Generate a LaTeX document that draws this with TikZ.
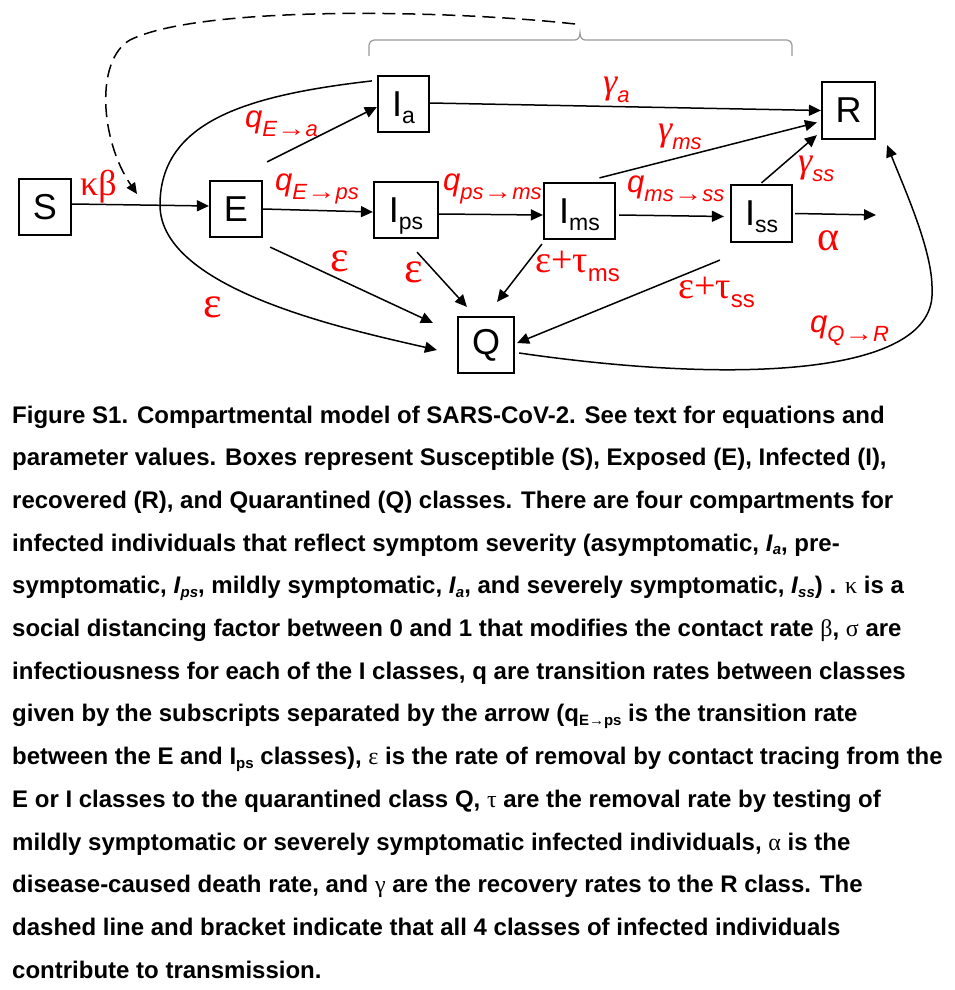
\documentclass[tikz,border=0pt]{standalone}
\usepackage{fontspec}
\setmainfont{Liberation Sans}
\newfontfamily\grk{Liberation Serif}
\usetikzlibrary{arrows.meta}
\newcommand\bsub[1]{\raisebox{-7pt}[0pt][0pt]{\fontsize{23}{25}\selectfont #1}}
\newcommand\qsub[1]{\raisebox{-9pt}[0pt][0pt]{\fontsize{22}{24}\selectfont\itshape #1}}
\newcommand\rsub[1]{\raisebox{-9pt}[0pt][0pt]{\fontsize{24}{26}\selectfont #1}}
\newcommand\csub[1]{\raisebox{-3.5pt}{\fontsize{15}{15}\selectfont #1}}
\newcommand\gk[1]{{\grk\mdseries\upshape #1}}
\newcommand\arr{{\grk\upshape\scalebox{1.3}[1.05]{→}}}
\newcommand\carr{{\grk\upshape →}}
\begin{document}
\begin{tikzpicture}[x=1pt,y=-1pt,
 box/.style={draw, line width=2.2pt, minimum width=52pt, minimum height=56pt, inner sep=0pt, font=\fontsize{36}{40}\selectfont},
 conn/.style={line width=1.5pt, -{Triangle[length=12pt,width=11pt]}},
 lab/.style={text=red, inner sep=0pt, anchor=base west},
 qlab/.style={lab, font=\fontsize{31}{34}\selectfont\itshape},
 glab/.style={lab, font=\fontsize{36}{38}\selectfont},
 elab/.style={lab, font=\fontsize{44}{46}\selectfont},
 tlab/.style={lab, font=\fontsize{38}{40}\selectfont},
 captxt/.style={inner sep=0pt, anchor=base west, font=\fontsize{24}{28}\selectfont\bfseries}]
\useasboundingbox (0,0) rectangle (954,990);

% boxes
\node[box] (S) at (45,207) {S};
\node[box] (E) at (236,209) {E};
\node[box, minimum width=51pt] (Ia) at (403.5,104) {I\bsub{a}};
\node[box, minimum width=64pt] (Ips) at (406,210) {I\bsub{ps}};
\node[box, minimum width=71pt] (Ims) at (579.5,211) {I\bsub{ms}};
\node[box, minimum width=61pt, minimum height=57pt] (Iss) at (761.5,213.5) {I\bsub{ss}};
\node[box, minimum width=53pt, minimum height=57pt] (R) at (848.5,110.5) {R};
\node[box, minimum width=56pt] (Q) at (486,345) {Q};

% bracket
\coordinate (brL) at (369,56);
\coordinate (brR) at (792,56);
\coordinate (brT) at (580,33);
\draw[black!40, line width=1.2pt] (brL) -- (369,45) to[out=90,in=180] (374,40) -- (575,40) to[out=0,in=-90] (brT) to[out=-90,in=180] (585,40) -- (787,40) to[out=0,in=90] (792,45) -- (brR);

% dashed transmission line
\coordinate (dS) at (575,24);
\coordinate (dM) at (130,40);
\coordinate (dE) at (137,194);
\draw[line width=1.5pt, dash pattern=on 13pt off 7pt, -{Triangle[length=11pt,width=10pt]}] (dS) .. controls (450,10) and (200,5) .. (dM) .. controls (95,60) and (100,140) .. (dE);

% connectors
\draw[conn] ([shift={(0,-3)}]S.east) -- ([shift={(0,-3)}]E.west);
\draw[conn] ([shift={(4,-18)}]E.north east) -- ([shift={(0,3)}]Ia.west);
\draw[conn] (E.east) -- ([shift={(0,2)}]Ips.west);
\draw[conn] ([shift={(0,-1)}]Ia.east) -- (R.west);
\draw[conn] ([shift={(0,4)}]Ips.east) -- ([shift={(0,4)}]Ims.west);
\draw[conn] ([shift={(20,-4)}]Ims.north) -- ([shift={(-4,12)}]R.west);
\draw[conn] ([shift={(3,4)}]Ims.east) -- ([shift={(-6,3)}]Iss.west);
\draw[conn] ([shift={(0,-1)}]Iss.north) -- ([shift={(-4,-5)}]R.south west);
\coordinate (aEnd) at (876,215);
\draw[conn] ([shift={(2,0)}]Iss.east) -- (aEnd);
\draw[conn] ([shift={(7,9)}]E.south east) -- ([shift={(-24,7)}]Q.north west);
\draw[conn] ([shift={(11,13)}]Ips.south) -- ([shift={(10,-9)}]Q.north west);
\draw[conn] ([shift={(-1,4)}]Ims.south west) -- ([shift={(-18,-14)}]Q.north east);
\draw[conn] ([shift={(-10,17)}]Iss.south west) -- ([shift={(2,-2)}]Q.east);
\coordinate (bA) at (160,205);
\draw[conn] ([shift={(-5,6)}]Ia.north west) .. controls (250,95) and (160,120) .. (bA) .. controls (160,290) and (350,330) .. ([shift={(-20,5)}]Q.west);
\coordinate (bB) at (932,290);
\draw[conn] ([shift={(4,8)}]Q.east) .. controls (740,385) and (937,375) .. (bB) .. controls (933,252) and (905,190) .. ([shift={(11,5)}]R.south east);

% labels
\node[lab, font=\fontsize{36}{38}\selectfont] (lkb) at (80,195) {\gk{κβ}};
\node[qlab] (lqa) at (245,127) {q\qsub{E\arr a}};
\node[qlab] (lqps) at (275,190) {q\qsub{E\arr ps}};
\node[qlab] (lqms) at (443,190) {q\qsub{ps\arr ms}};
\node[qlab] (lqss) at (627,192) {q\qsub{ms\arr ss}};
\node[qlab] (lqr) at (810,332) {q\qsub{Q\arr R}};
\node[glab] (lga) at (603,93) {{\grk\itshape γ}\qsub{a}};
\node[glab] (lgms) at (658,140) {{\grk\itshape γ}\qsub{ms}};
\node[glab] (lgss) at (798,172) {{\grk\itshape γ}\qsub{ss}};
\node[lab, font=\fontsize{42}{44}\selectfont] (lal) at (817,250) {\gk{α}};
\node[tlab] (ltms) at (535,272) {\gk{ε+τ}\rsub{ms}};
\node[tlab] (ltss) at (678,298) {\gk{ε+τ}\rsub{ss}};
\node[elab] (le1) at (330,271) {\gk{ε}};
\node[elab] (le2) at (404,282) {\gk{ε}};
\node[elab] (le3) at (203,317) {\gk{ε}};

% caption
\node[captxt] (c1) at (12,423) {Figure S1. Compartmental model of SARS-CoV-2. See text for equations and};
\node[captxt] (c2) at (12,465.7) {parameter values. Boxes represent Susceptible (S), Exposed (E), Infected (I),};
\node[captxt] (c3) at (12,508.4) {recovered (R), and Quarantined (Q) classes. There are four compartments for};
\node[captxt] (c4) at (12,551.1) {infected individuals that reflect symptom severity (asymptomatic, \textit{I}\csub{\itshape a}, pre-};
\node[captxt] (c5) at (12,593.8) {symptomatic, \textit{I}\csub{\itshape ps}, mildly symptomatic, \textit{I}\csub{\itshape a}, and severely symptomatic, \textit{I}\csub{\itshape ss}) . \gk{κ} is a};
\node[captxt] (c6) at (12,636.5) {social distancing factor between 0 and 1 that modifies the contact rate \gk{β}, \gk{σ} are};
\node[captxt] (c7) at (12,679.2) {infectiousness for each of the I classes, q are transition rates between classes};
\node[captxt] (c8) at (12,721.9) {given by the subscripts separated by the arrow (q\csub{E\carr ps} is the transition rate};
\node[captxt] (c9) at (12,764.6) {between the E and I\csub{ps} classes), \gk{ε} is the rate of removal by contact tracing from the};
\node[captxt] (c10) at (12,807.3) {E or I classes to the quarantined class Q, \gk{τ} are the removal rate by testing of};
\node[captxt] (c11) at (12,850) {mildly symptomatic or severely symptomatic infected individuals, \gk{α} is the};
\node[captxt] (c12) at (12,892.7) {disease-caused death rate, and \gk{γ} are the recovery rates to the R class. The};
\node[captxt] (c13) at (12,935.4) {dashed line and bracket indicate that all 4 classes of infected individuals};
\node[captxt] (c14) at (12,978.1) {contribute to transmission.};
\end{tikzpicture}
\end{document}
